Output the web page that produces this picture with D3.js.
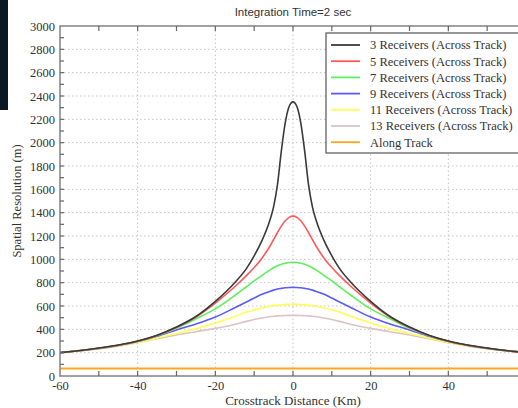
<!DOCTYPE html>
<html lang="en">
<head>
<meta charset="UTF-8">
<script src="https://cdn.jsdelivr.net/npm/d3@7"></script>
<style>
    body { margin: 0; background: #fff; }
    svg { display: block; }
</style>
</head>
<body>
<script>
    /*------------------- data --------------------*/
    const xKm = [-60, -55, -50, -45, -40, -35, -30, -25, -20, -15, -12, -10, -8, -6, -5, -4, -3, -2, -1, 0,
                 1, 2, 3, 4, 5, 6, 8, 10, 12, 15, 20, 25, 30, 35, 40, 45, 50, 55, 60];

    const rx3  = [200, 218, 240, 265, 300, 350, 420, 510, 640, 800, 920, 1030, 1160, 1330, 1450, 1640, 1930, 2170, 2310, 2350,
                  2310, 2170, 1930, 1640, 1450, 1330, 1160, 1030, 920, 800, 640, 510, 420, 350, 300, 265, 240, 218, 200];
    const rx5  = [200, 217, 238, 263, 298, 348, 415, 505, 625, 765, 860, 930, 1010, 1110, 1170, 1230, 1285, 1330, 1360, 1370,
                  1360, 1330, 1285, 1230, 1170, 1110, 1010, 930, 860, 765, 625, 505, 415, 348, 298, 263, 238, 217, 200];
    const rx7  = [200, 217, 237, 263, 298, 345, 410, 490, 575, 690, 765, 815, 862, 908, 928, 945, 957, 966, 973, 975,
                  973, 966, 957, 945, 928, 908, 862, 815, 765, 690, 575, 490, 410, 345, 298, 263, 237, 217, 200];
    const rx9  = [200, 217, 237, 262, 295, 340, 395, 445, 505, 585, 635, 668, 700, 725, 736, 745, 751, 756, 759, 760,
                  759, 756, 751, 745, 736, 725, 700, 668, 635, 585, 505, 445, 395, 340, 295, 262, 237, 217, 200];
    const rx11 = [200, 216, 235, 258, 288, 325, 365, 405, 455, 510, 548, 566, 583, 598, 603, 607, 610, 612, 614, 615,
                  614, 612, 610, 607, 603, 598, 583, 566, 548, 510, 455, 405, 365, 325, 288, 258, 235, 216, 200];
    const rx13 = [200, 216, 234, 256, 285, 320, 352, 380, 408, 442, 468, 484, 497, 508, 512, 515, 517, 519, 520, 520,
                  520, 519, 517, 515, 512, 508, 497, 484, 468, 442, 408, 380, 352, 320, 285, 256, 234, 216, 200];
    const alongTrack = 65;

    const seriesNames = ["3 Receivers (Across Track)", "5 Receivers (Across Track)",
        "7 Receivers (Across Track)", "9 Receivers (Across Track)",
        "11 Receivers (Across Track)", "13 Receivers (Across Track)", "Along Track"];
    const seriesColors = ["#3a3a3a", "#ff5a5a", "#5ef05e", "#5a5aff", "#ffff55", "#dcc4c4", "#ffa520"];

    const xTicks = [-60, -40, -20, 0, 20, 40];
    const yTicks = d3.range(0, 3001, 200);

    /*------------------- layout --------------------*/
    const W = 518, H = 408;
    const m = {left: 60, top: 26, right: -8, bottom: 32};
    const serif = "'Liberation Serif', 'DejaVu Serif', serif";

    const svg = d3.select("body").append("svg")
        .attr("width", W).attr("height", H);

    // dark strip at the top left
    svg.append("rect").attr("x", 0).attr("y", 0).attr("width", 8).attr("height", 110)
        .attr("fill", "#0b1824");

    const x = d3.scaleLinear().domain([-60, 60]).range([m.left, W - m.right]);
    const y = d3.scaleLinear().domain([0, 3000]).range([H - m.bottom, m.top]);

    // grid
    const grid = svg.append("g").attr("stroke", "#c4c4c4").attr("stroke-dasharray", "1.5,2.5");
    grid.selectAll(".gx").data(xTicks.slice(1)).enter().append("line")
        .attr("x1", d => x(d)).attr("x2", d => x(d))
        .attr("y1", y(0)).attr("y2", y(3000));
    grid.selectAll(".gy").data(yTicks.slice(1, -1)).enter().append("line")
        .attr("y1", d => y(d)).attr("y2", d => y(d))
        .attr("x1", x(-60)).attr("x2", x(60));

    // curves
    const allSeries = [rx3, rx5, rx7, rx9, rx11, rx13];
    const line = d3.line()
        .x((d, i) => x(xKm[i]))
        .y(d => y(d))
        .curve(d3.curveMonotoneX);

    // along track first so across-track curves sit on top
    svg.append("line")
        .attr("x1", x(-60)).attr("x2", x(60))
        .attr("y1", y(alongTrack)).attr("y2", y(alongTrack))
        .attr("stroke", seriesColors[6]).attr("stroke-width", 2);

    allSeries.slice().reverse().forEach((s, k) => {
        const i = allSeries.length - 1 - k;
        svg.append("path")
            .datum(s)
            .attr("d", line)
            .attr("fill", "none")
            .attr("stroke", seriesColors[i])
            .attr("stroke-width", 1.6);
    });

    // axes
    const xAxis = d3.axisBottom(x).tickValues(xTicks).tickSize(0).tickPadding(5).tickFormat(d => String(d));
    const gx = svg.append("g").attr("transform", `translate(0,${y(0)})`).call(xAxis);
    gx.select(".domain").remove();

    const yAxis = d3.axisLeft(y).tickValues(yTicks).tickSize(0).tickPadding(5).tickFormat(d => String(d));
    const gy = svg.append("g").attr("transform", `translate(${x(-60)},0)`).call(yAxis);
    gy.select(".domain").remove();

    [gx, gy].forEach(g => g.attr("font-family", serif).attr("font-size", 12.5)
        .selectAll("text").attr("fill", "#333"));

    // frame
    svg.append("rect")
        .attr("x", x(-60)).attr("y", y(3000))
        .attr("width", x(60) - x(-60)).attr("height", y(0) - y(3000))
        .attr("fill", "none").attr("stroke", "#8a8a8a").attr("stroke-width", 1.6);

    // inward ticks
    const minorX = d3.range(-50, 60, 10);
    const ticks = svg.append("g").attr("stroke", "#666").attr("stroke-width", 1.2);
    ticks.selectAll(".tb").data(minorX).enter().append("line")
        .attr("x1", d => x(d)).attr("x2", d => x(d))
        .attr("y1", y(0)).attr("y2", y(0) - 5);
    ticks.selectAll(".tt").data(minorX).enter().append("line")
        .attr("x1", d => x(d)).attr("x2", d => x(d))
        .attr("y1", y(3000)).attr("y2", y(3000) + 5);
    ticks.selectAll(".tl").data(d3.range(100, 3000, 100)).enter().append("line")
        .attr("x1", x(-60)).attr("x2", x(-60) + 4)
        .attr("y1", d => y(d)).attr("y2", d => y(d));

    // title and axis labels
    svg.append("text")
        .attr("x", x(0)).attr("y", 16)
        .attr("text-anchor", "middle")
        .attr("font-family", "'Liberation Sans', Arial, sans-serif")
        .attr("font-size", 11.5).attr("fill", "#333")
        .text("Integration Time=2 sec");

    svg.append("text")
        .attr("x", x(0)).attr("y", 405)
        .attr("text-anchor", "middle")
        .attr("font-family", serif)
        .attr("font-size", 13).attr("fill", "#333")
        .text("Crosstrack Distance (Km)");

    svg.append("text")
        .attr("transform", `translate(21,${y(1500)}) rotate(-90)`)
        .attr("text-anchor", "middle")
        .attr("font-family", serif)
        .attr("font-size", 12.5).attr("fill", "#333")
        .text("Spatial Resolution (m)");

    // legend
    const lg = svg.append("g").attr("transform", "translate(326,33)")
        .attr("font-family", serif).attr("font-size", 12.5).attr("fill", "#333");
    lg.append("rect").attr("width", 200).attr("height", 120)
        .attr("fill", "#fff").attr("stroke", "#555").attr("stroke-width", 1.2);
    const rows = lg.selectAll(".row").data(seriesNames).enter().append("g")
        .attr("transform", (d, i) => `translate(0,${12 + i * 16.2})`);
    rows.append("line").attr("x1", 5).attr("x2", 34)
        .attr("stroke", (d, i) => seriesColors[i]).attr("stroke-width", 1.8);
    rows.append("text").attr("x", 44).attr("dy", "0.35em").text(d => d);
</script>
</body>
</html>
